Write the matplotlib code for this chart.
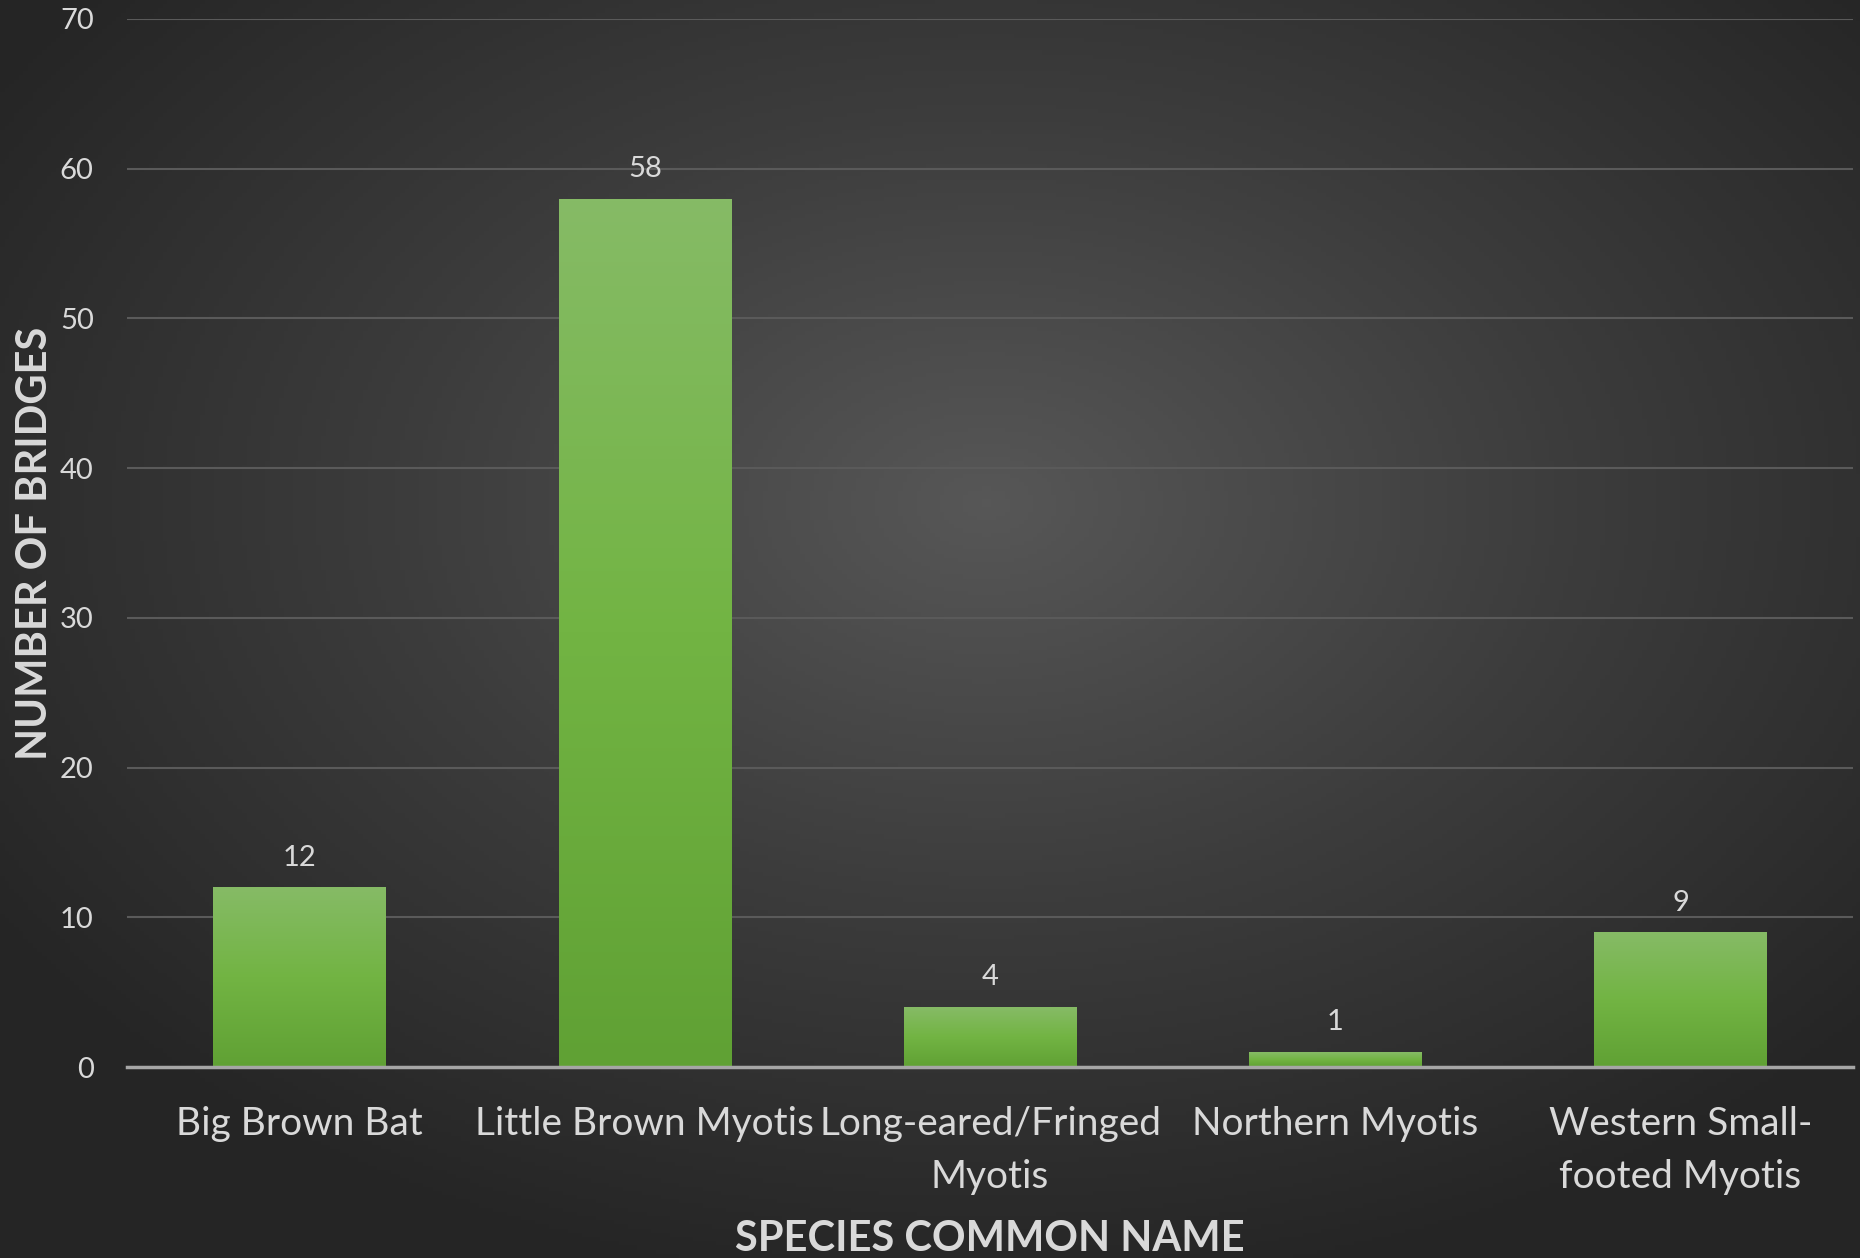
import numpy as np
import matplotlib
matplotlib.use("Agg")
from matplotlib import pyplot as plt
from matplotlib.colors import LinearSegmentedColormap

# data
species = ["Big Brown Bat", "Little Brown Myotis", "Long-eared/Fringed\nMyotis",
           "Northern Myotis", "Western Small-\nfooted Myotis"]
bridges = [12, 58, 4, 1, 9]
yticks = [0, 10, 20, 30, 40, 50, 60, 70]

plt.rcParams['font.family'] = ['Lato', 'DejaVu Sans']
txt = '#d9d9d9'

fig = plt.figure(figsize=(18.6, 12.58), dpi=100)

# radial background
bg = fig.add_axes([0, 0, 1, 1], zorder=-5)
gx, gy = np.meshgrid(np.linspace(0, 1, 400), np.linspace(0, 1, 300))
r = np.sqrt(((gx - 0.53) / 0.75) ** 2 + ((gy - 0.40) / 0.75) ** 2)
r = np.clip(r / 0.85, 0, 1)
bgmap = LinearSegmentedColormap.from_list('bg', ['#575757', '#3c3c3c', '#252525'])
bg.imshow(r, cmap=bgmap, extent=[0, 1, 1, 0], aspect='auto', vmin=0, vmax=1)
bg.set_xlim(0, 1); bg.set_ylim(1, 0)
bg.axis('off')

ax = fig.add_axes([0.0683, 0.1518, 0.9280, 0.8331])
ax.set_facecolor('none')

x = np.arange(len(species))
bars = ax.bar(x, bridges, width=0.5, color='none', zorder=3)
barmap = LinearSegmentedColormap.from_list('bar', ['#86bb66', '#72b443', '#60a134'])
grad = np.linspace(0, 1, 256).reshape(-1, 1)
for b in bars:
    im = ax.imshow(grad, cmap=barmap, aspect='auto', zorder=3,
                   extent=[b.get_x(), b.get_x() + b.get_width(), 0, b.get_height()])
    im.set_clip_path(b)
    ax.annotate(str(int(b.get_height())), (b.get_x() + b.get_width() / 2, b.get_height()),
                xytext=(0, 12), textcoords='offset points', ha='center', va='bottom',
                color=txt, fontsize=21)

ax.set_xlim(-0.5, len(species) - 0.5)
ax.set_ylim(0, 70)
ax.set_yticks(yticks)
ax.set_xticks(x)
ax.set_xticklabels(species, fontsize=28, color=txt, linespacing=1.6)
ax.tick_params(axis='y', labelsize=21, labelcolor=txt, length=0, pad=24)
ax.tick_params(axis='x', length=0, pad=28)
ax.grid(axis='y', color='#5a5a5a', linewidth=1.5, zorder=0)
for s in ['top', 'right', 'left']:
    ax.spines[s].set_visible(False)
ax.spines['bottom'].set_color('#a6a6a6')
ax.spines['bottom'].set_linewidth(2.5)
ax.spines['bottom'].set_zorder(4)

ax.set_ylabel('NUMBER OF BRIDGES', fontsize=30, fontweight='bold', color=txt, labelpad=4)
ax.set_xlabel('SPECIES COMMON NAME', fontsize=30, fontweight='bold', color=txt, labelpad=18)

fig.savefig('out.png', dpi=100)
